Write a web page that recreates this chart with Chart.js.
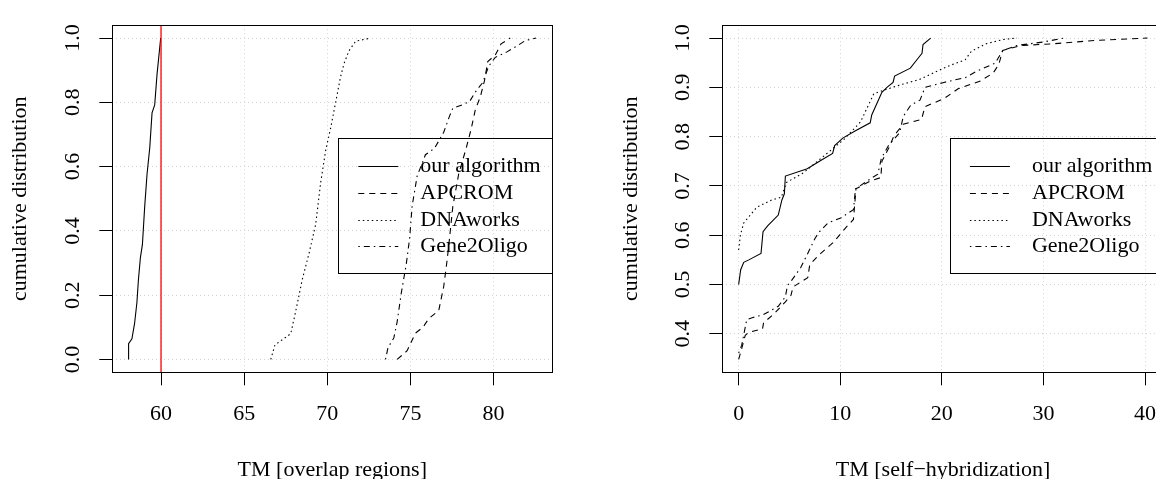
<!DOCTYPE html>
<html>
<head>
<meta charset="utf-8">
<script src="https://cdn.jsdelivr.net/npm/chart.js@4.4.0/dist/chart.umd.min.js"></script>
<style>
    html, body { margin: 0; padding: 0; background: #fff; width: 1156px; height: 479px; overflow: hidden; }
    .panel { position: absolute; top: 0; }
    #izq { left: 0; }
    #der { left: 578px; }
</style>
</head>
<body>
<div class="panel" id="izq"><canvas id="overlapChart" width="578" height="479"></canvas></div>
<div class="panel" id="der"><canvas id="selfChart" width="620" height="479"></canvas></div>
<script>
// Nombres de los métodos (leyenda)
const metodos = ['our algorithm', 'APCROM', 'DNAworks', 'Gene2Oligo'];

// Panel izquierdo: TM [overlap regions]
const ourOverlapX = [58.05, 58.05, 58.25, 58.41, 58.55, 58.64, 58.76, 58.88, 59.02, 59.16, 59.32, 59.46, 59.62, 59.76, 59.98];
const ourOverlapY = [0, 0.049, 0.064, 0.112, 0.177, 0.247, 0.317, 0.357, 0.477, 0.577, 0.657, 0.767, 0.792, 0.887, 1.0];
const apcOverlapX = [74.2, 74.8, 75.3, 75.75, 76.1, 76.7, 77.0, 77.2, 77.35, 77.55, 77.9, 78.35, 78.65, 78.9, 79.2, 79.45, 79.65, 80.1, 80.45, 81.0];
const apcOverlapY = [0, 0.027, 0.082, 0.1, 0.127, 0.152, 0.227, 0.307, 0.377, 0.477, 0.577, 0.657, 0.717, 0.777, 0.817, 0.867, 0.927, 0.947, 0.982, 1.0];
const dnaOverlapX = [66.6, 66.85, 67.8, 68.1, 68.5, 68.9, 69.3, 69.6, 69.9, 70.2, 70.5, 70.8, 71.0, 71.3, 71.7, 72.6];
const dnaOverlapY = [0, 0.045, 0.08, 0.15, 0.25, 0.33, 0.42, 0.55, 0.65, 0.72, 0.8, 0.88, 0.92, 0.96, 0.99, 1.0];
const g2oOverlapX = [73.5, 73.65, 74.0, 74.2, 74.45, 74.75, 74.95, 75.1, 75.4, 75.9, 76.45, 77.0, 77.35, 77.55, 78.1, 78.55, 78.9, 79.35, 79.7, 80.1, 80.8, 81.45, 81.9, 82.55];
const g2oOverlapY = [0, 0.037, 0.067, 0.117, 0.207, 0.297, 0.377, 0.477, 0.57, 0.637, 0.657, 0.707, 0.757, 0.782, 0.792, 0.802, 0.832, 0.862, 0.912, 0.94, 0.957, 0.977, 0.992, 1.0];
const overlapXTicks = [60, 65, 70, 75, 80];
const overlapYTicks = [0, 0.2, 0.4, 0.6, 0.8, 1.0];
const umbralOverlap = 60;

// Panel derecho: TM [self-hybridization]
const ourSelfX = [0, 0.2, 0.5, 1.0, 2.2, 2.4, 2.85, 3.9, 4.25, 4.5, 4.6, 6.75, 8.2, 9.25, 9.45, 10.25, 11.5, 12.95, 13.1, 14.1, 14.6, 15.2, 15.35, 16.9, 17.7, 18.05, 18.15, 18.9];
const ourSelfY = [0.5, 0.53, 0.545, 0.55, 0.563, 0.607, 0.619, 0.641, 0.671, 0.684, 0.72, 0.735, 0.753, 0.766, 0.782, 0.797, 0.812, 0.828, 0.844, 0.89, 0.9, 0.91, 0.923, 0.939, 0.96, 0.969, 0.987, 1.0];
const apcSelfX = [0, 0.3, 0.65, 1.0, 2.35, 2.45, 3.55, 4.6, 5.15, 5.35, 6.8, 7.0, 7.9, 9.35, 10.4, 11.3, 11.55, 12.95, 14.0, 14.1, 14.75, 15.3, 16.2, 18.0, 18.35, 20.2, 21.6, 23.8, 25.05, 25.6, 26.0, 27.8, 30.7, 35.0, 40.25];
const apcSelfY = [0.348, 0.37, 0.397, 0.403, 0.41, 0.422, 0.442, 0.465, 0.478, 0.495, 0.514, 0.54, 0.56, 0.586, 0.612, 0.632, 0.694, 0.71, 0.717, 0.75, 0.776, 0.802, 0.825, 0.835, 0.861, 0.877, 0.897, 0.913, 0.929, 0.946, 0.975, 0.985, 0.988, 0.995, 1.0];
const dnaSelfX = [0, 0.17, 0.5, 1.8, 3.2, 4.2, 4.7, 6.4, 8.7, 10.35, 12.0, 13.3, 14.7, 15.9, 17.8, 20.5, 22.3, 22.9, 24.3, 26.0, 27.4];
const dnaSelfY = [0.57, 0.6, 0.625, 0.657, 0.671, 0.677, 0.707, 0.727, 0.766, 0.794, 0.83, 0.887, 0.897, 0.905, 0.916, 0.942, 0.956, 0.973, 0.988, 0.997, 1.0];
const g2oSelfX = [0, 0.3, 0.8, 1.4, 2.45, 3.9, 4.6, 4.8, 5.2, 6.1, 6.8, 7.5, 7.9, 8.8, 10.05, 11.3, 11.5, 12.95, 13.7, 14.05, 14.75, 15.85, 16.2, 16.95, 17.85, 18.35, 20.2, 22.35, 23.45, 25.25, 26.0, 27.4, 30.0, 32.0];
const g2oSelfY = [0.361, 0.377, 0.429, 0.433, 0.439, 0.456, 0.475, 0.498, 0.508, 0.534, 0.563, 0.593, 0.606, 0.625, 0.635, 0.652, 0.694, 0.714, 0.724, 0.756, 0.782, 0.808, 0.841, 0.864, 0.874, 0.9, 0.91, 0.92, 0.933, 0.949, 0.975, 0.985, 0.992, 1.0];
const selfXTicks = [0, 10, 20, 30, 40];
const selfYTicks = [0.4, 0.5, 0.6, 0.7, 0.8, 0.9, 1.0];

// Estilos de línea tipo R (lty 1..4)
const trazos = [[], [6, 5], [1.5, 3], [1.5, 4, 6, 4]];

Chart.defaults.font.family = "'Liberation Serif', 'Times New Roman', serif";
Chart.defaults.font.size = 22;
Chart.defaults.color = '#000';

// Rango con el 4% extra que usa R
function rango(valores) {
    const min = Math.min(...valores);
    const max = Math.max(...valores);
    const d = (max - min) * 0.04;
    return { min: min - d, max: max + d };
}

function puntos(xs, ys) {
    return xs.map((x, i) => ({ x: x, y: ys[i] }));
}

// Caja alrededor del área del gráfico
const marcoPlugin = {
    id: 'marco',
    afterDraw(chart) {
        const { ctx, chartArea: a } = chart;
        ctx.save();
        ctx.strokeStyle = '#000';
        ctx.lineWidth = 1;
        ctx.strokeRect(Math.round(a.left) + 0.5, Math.round(a.top) + 0.5, Math.round(a.right - a.left), Math.round(a.bottom - a.top));
        ctx.restore();
    }
};

// Leyenda con caja, como legend() de R
const leyendaPlugin = {
    id: 'leyenda',
    afterDraw(chart) {
        const { ctx, chartArea: a } = chart;
        const ancho = 214, alto = 135.4;
        const izq = a.right - ancho;
        const arriba = a.top + 112.3;
        ctx.save();
        ctx.strokeStyle = '#000';
        ctx.lineWidth = 1;
        ctx.strokeRect(Math.round(izq) + 0.5, Math.round(arriba) + 0.5, ancho, Math.round(alto));
        ctx.font = "22px 'Liberation Serif', serif";
        ctx.textBaseline = 'middle';
        ctx.fillStyle = '#000';
        chart.data.datasets.forEach((ds, i) => {
            if (!ds.enLeyenda) return;
            const y = Math.round(arriba + 28.4 + i * 26.8) + 0.5;
            ctx.setLineDash(ds.borderDash || []);
            ctx.beginPath();
            ctx.moveTo(izq + 20, y);
            ctx.lineTo(izq + 60, y);
            ctx.stroke();
            ctx.setLineDash([]);
            ctx.fillText(ds.label, izq + 82, y);
        });
        ctx.restore();
    }
};

function crearGrafico(id, p) {
    const rx = rango(p.series.flatMap(s => s[0]));
    const ry = rango(p.series.flatMap(s => s[1]));
    const datasets = p.series.map((s, i) => ({
        label: metodos[i],
        enLeyenda: true,
        data: puntos(s[0], s[1]),
        showLine: true,
        borderColor: '#000',
        borderWidth: 1.1,
        borderDash: trazos[i],
        pointRadius: 0,
        fill: false,
        tension: 0
    }));
    if (p.umbral !== undefined) {
        datasets.push({
            label: 'umbral',
            enLeyenda: false,
            order: -1,
            data: [{ x: p.umbral, y: ry.min }, { x: p.umbral, y: ry.max }],
            showLine: true,
            borderColor: '#ff0000',
            borderWidth: 1.3,
            pointRadius: 0
        });
    }
    const rejilla = { color: '#d3d3d3', lineWidth: 1, tickLength: 13, tickColor: '#000', tickWidth: 1, tickBorderDash: [] };
    return new Chart(document.getElementById(id).getContext('2d'), {
        type: 'scatter',
        data: { datasets: datasets },
        options: {
            responsive: false,
            animation: false,
            layout: { padding: { top: 12, right: p.padDer, bottom: 0, left: 0 } },
            plugins: { legend: { display: false }, tooltip: { enabled: false } },
            scales: {
                x: {
                    type: 'linear',
                    min: rx.min,
                    max: rx.max,
                    afterBuildTicks: s => { s.ticks = p.xTicks.map(v => ({ value: v })); },
                    afterFit: s => { s.height = 106.7; },
                    grid: rejilla,
                    border: { display: false, dash: [1, 3] },
                    ticks: { padding: 16, maxRotation: 0, autoSkip: false, callback: v => String(v) },
                    title: { display: true, text: p.tituloX, font: { size: 22, lineHeight: 0.8 }, padding: 0 }
                },
                y: {
                    type: 'linear',
                    min: ry.min,
                    max: ry.max,
                    afterBuildTicks: s => { s.ticks = p.yTicks.map(v => ({ value: v })); },
                    afterFit: s => { s.width = p.anchoY; },
                    grid: rejilla,
                    border: { display: false, dash: [1, 3] },
                    ticks: { padding: 12, minRotation: 90, maxRotation: 90, crossAlign: 'center', autoSkip: false, callback: v => v.toFixed(1) },
                    title: { display: true, text: 'cumulative distribution', font: { size: 22, lineHeight: 0.8 }, padding: { top: p.padTituloY, bottom: 0 } }
                }
            }
        },
        plugins: [marcoPlugin, leyendaPlugin]
    });
}

const overlapChart = crearGrafico('overlapChart', {
    series: [[ourOverlapX, ourOverlapY], [apcOverlapX, apcOverlapY], [dnaOverlapX, dnaOverlapY], [g2oOverlapX, g2oOverlapY]],
    xTicks: overlapXTicks,
    yTicks: overlapYTicks,
    umbral: umbralOverlap,
    tituloX: 'TM [overlap regions]',
    anchoY: 112.3,
    padDer: 25.7,
    padTituloY: 11.2
});

const selfChart = crearGrafico('selfChart', {
    series: [[ourSelfX, ourSelfY], [apcSelfX, apcSelfY], [dnaSelfX, dnaSelfY], [g2oSelfX, g2oSelfY]],
    xTicks: selfXTicks,
    yTicks: selfYTicks,
    tituloX: 'TM [self\u2212hybridization]',
    anchoY: 144.3,
    padDer: 34.1,
    padTituloY: 44.2
});
</script>
</body>
</html>
